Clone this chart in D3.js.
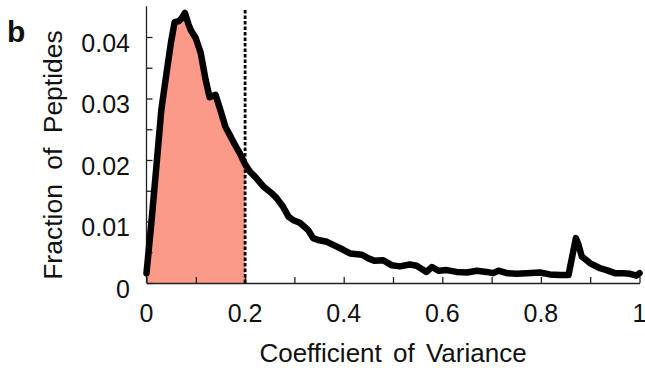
<!DOCTYPE html>
<html>
<head>
<meta charset="utf-8">
<script src="https://cdn.jsdelivr.net/npm/d3@7/dist/d3.min.js"></script>
<style>
  html, body { margin: 0; padding: 0; background: #fff; }
  svg { display: block; }
  text { font-family: "Liberation Sans", Arial, sans-serif; fill: #111; }
</style>
</head>
<body>
<svg id="chart" width="645" height="368"></svg>
<script>
// Coefficient of variance (x) and fraction of peptides (y)
const cv = [0.000, 0.010, 0.020, 0.030, 0.040, 0.050, 0.057, 0.066, 0.072, 0.078,
  0.085, 0.090, 0.100, 0.110, 0.120, 0.128, 0.140, 0.150, 0.160, 0.170,
  0.180, 0.190, 0.200, 0.210, 0.220, 0.237, 0.254, 0.264, 0.277, 0.288,
  0.298, 0.311, 0.328, 0.338, 0.348, 0.366, 0.386, 0.399, 0.413, 0.437,
  0.450, 0.463, 0.480, 0.497, 0.514, 0.534, 0.548, 0.568, 0.579, 0.592,
  0.609, 0.629, 0.650, 0.670, 0.690, 0.703, 0.714, 0.731, 0.751, 0.771,
  0.798, 0.818, 0.839, 0.856, 0.871, 0.876, 0.883, 0.900, 0.920, 0.933,
  0.950, 0.967, 0.981, 0.994, 1.000];
const fraction = [0.0016, 0.0099, 0.0189, 0.0281, 0.0338, 0.0393, 0.0424, 0.0426, 0.0431, 0.0439,
  0.0421, 0.0411, 0.0398, 0.0374, 0.0330, 0.0302, 0.0306, 0.0281, 0.0254, 0.0239,
  0.0224, 0.0210, 0.0193, 0.0181, 0.0173, 0.0157, 0.0146, 0.0138, 0.0124, 0.0108,
  0.0102, 0.0098, 0.0086, 0.0073, 0.0070, 0.0067, 0.0059, 0.0054, 0.0048, 0.0046,
  0.0040, 0.0036, 0.0037, 0.0029, 0.0027, 0.0030, 0.0028, 0.0018, 0.0026, 0.0020,
  0.0021, 0.0018, 0.0017, 0.0020, 0.0018, 0.0016, 0.0020, 0.0016, 0.0015, 0.0016,
  0.0017, 0.0014, 0.0013, 0.0013, 0.0073, 0.0063, 0.0043, 0.0032, 0.0024, 0.0021,
  0.0016, 0.0016, 0.0015, 0.0012, 0.0016];
const threshold = 0.2;
const xTicks = [0, 0.2, 0.4, 0.6, 0.8, 1];
const xMinorTicks = [0, 0.1, 0.2, 0.3, 0.4, 0.5, 0.6, 0.7, 0.8, 0.9, 1];
const yTicks = [0, 0.01, 0.02, 0.03, 0.04];
const yMinorTicks = [0, 0.005, 0.01, 0.015, 0.02, 0.025, 0.03, 0.035, 0.04];
const yTickLabels = ["0", "0.01", "0.02", "0.03", "0.04"];
const xTickLabels = ["0", "0.2", "0.4", "0.6", "0.8", "1"];

const data = cv.map((c, i) => ({ x: c, y: fraction[i] }));

const svg = d3.select("#chart");
const x = d3.scaleLinear().domain([0, 1]).range([146.5, 639.5]);
const y = d3.scaleLinear().domain([0, 0.045]).range([283, 6.25]);

// shaded area up to threshold
const inside = data.filter(d => d.x <= threshold);
svg.append("path")
  .datum(inside)
  .attr("fill", "#fc9a8a")
  .attr("d", d3.area().x(d => x(d.x)).y0(y(0)).y1(d => y(d.y)));

// axes
const xAxis = svg.append("g").attr("transform", `translate(0,${y(0)})`)
  .call(d3.axisTop(x).tickValues(xMinorTicks).tickSize(6).tickFormat("").tickSizeOuter(0));
const yAxis = svg.append("g").attr("transform", `translate(${x(0)},0)`)
  .call(d3.axisRight(y).tickValues(yMinorTicks).tickSize(6).tickFormat("").tickSizeOuter(0));
[xAxis, yAxis].forEach(g => {
  g.selectAll("path, line").attr("stroke", "#222").attr("stroke-width", 1.3);
});
yAxis.select(".domain").attr("d", `M0,${y(0)}V${y.range()[1]}`);

// tick labels
svg.append("g").selectAll("text").data(xTicks).join("text")
  .attr("x", d => x(d)).attr("y", 322)
  .attr("text-anchor", "middle").attr("font-size", 25)
  .text((d, i) => xTickLabels[i]);
svg.append("g").selectAll("text").data(yTicks).join("text")
  .attr("x", 130).attr("y", d => y(d) + 14.5)
  .attr("text-anchor", "end").attr("font-size", 25)
  .text((d, i) => yTickLabels[i]);

// threshold line
svg.append("line")
  .attr("x1", x(threshold)).attr("x2", x(threshold))
  .attr("y1", y(0)).attr("y2", 9)
  .attr("stroke", "#000").attr("stroke-width", 2.8)
  .attr("stroke-dasharray", "3.5,2");

// curve
svg.append("path")
  .datum(data)
  .attr("fill", "none")
  .attr("stroke", "#000")
  .attr("stroke-width", 6.5)
  .attr("stroke-linejoin", "round")
  .attr("stroke-linecap", "round")
  .attr("d", d3.line().x(d => x(d.x)).y(d => y(d.y)));

// titles
svg.append("text")
  .attr("x", 393).attr("y", 362)
  .attr("text-anchor", "middle").attr("font-size", 26)
  .attr("word-spacing", 4)
  .text("Coefficient of Variance");
svg.append("text")
  .attr("transform", "translate(62,155) rotate(-90)")
  .attr("text-anchor", "middle").attr("font-size", 26.5)
  .attr("word-spacing", 7)
  .text("Fraction of Peptides");
svg.append("text")
  .attr("x", 7).attr("y", 42)
  .attr("font-size", 30).attr("font-weight", "bold")
  .text("b");
</script>
</body>
</html>
